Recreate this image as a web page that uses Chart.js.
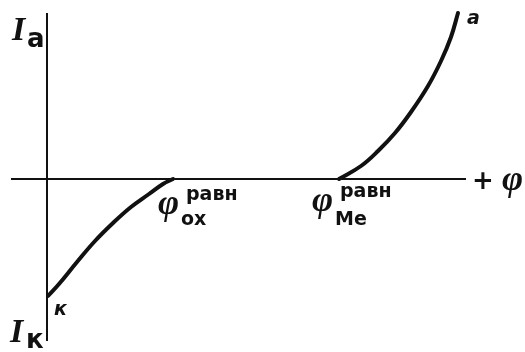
<!DOCTYPE html>
<html>
<head>
<meta charset="utf-8">
<script src="https://cdn.jsdelivr.net/npm/chart.js@4/dist/chart.umd.min.js"></script>
<style>
  html, body { margin: 0; padding: 0; background: #fff; }
  #wrap { width: 525px; height: 352px; }
</style>
</head>
<body>
<div id="wrap"><canvas id="c" width="525" height="352"></canvas></div>
<script>
// Potential axis (φ) and current axis (I), arbitrary units
const phiRange = [-35, 418];
const currentRange = [-161, 165];

// Equilibrium potentials
const phiOxEq = 126;
const phiMeEq = 292;

// Cathodic branch: from point к up to φ_ox equilibrium
const cathodicPhi = [1, 12, 30, 48, 66, 84, 102, 116, 126];
const cathodicI   = [-117, -105, -83, -62, -44, -28, -15, -5, 0];

// Anodic branch: from φ_Me equilibrium up to point а
const anodicPhi = [292, 314, 331, 348, 364, 381, 394, 404, 411];
const anodicI   = [0, 13, 28, 46, 67, 93, 118, 142, 166];

const toPoints = (xs, ys) => xs.map((v, i) => ({ x: v, y: ys[i] }));

const ink = '#111';

const labelsPlugin = {
  id: 'curveLabels',
  afterDatasetsDraw(chart) {
    const { ctx, scales: { x, y } } = chart;
    const ax = x.getPixelForValue(0);
    const ay = y.getPixelForValue(0);
    const top = chart.chartArea.top;
    const bottom = chart.chartArea.bottom;
    const right = chart.chartArea.right;
    ctx.save();
    ctx.fillStyle = ink;
    ctx.textBaseline = 'alphabetic';
    ctx.textAlign = 'left';

    const serifIt = s => 'italic bold ' + s + 'px "Liberation Serif"';
    const sansB = s => 'bold ' + s + 'px "DejaVu Sans"';
    const sansIt = s => 'italic bold ' + s + 'px "DejaVu Sans"';
    const put = (t, f, px, py) => { ctx.font = f; ctx.fillText(t, px, py); };

    // I_а  (anodic current)
    put('I', serifIt(34), ax - 35, top + 26);
    put('а', sansB(26), ax - 20, top + 33);

    // I_к  (cathodic current)
    put('I', serifIt(34), ax - 37, bottom + 2);
    put('к', sansB(26), ax - 21, bottom + 8);

    // end points of the curves
    const kx = x.getPixelForValue(cathodicPhi[0]);
    const ky = y.getPixelForValue(cathodicI[0]);
    put('к', sansIt(19), kx + 6, ky + 19);
    const ex = x.getPixelForValue(anodicPhi[anodicPhi.length - 1]);
    const ey = y.getPixelForValue(anodicI[anodicI.length - 1]);
    put('а', sansIt(19), ex + 9, ey + 11);

    // φ_ox^равн
    const ox = x.getPixelForValue(phiOxEq);
    put('φ', serifIt(36), ox - 15, ay + 35);
    put('равн', sansB(19), ox + 13, ay + 21);
    put('ox', sansB(19), ox + 8, ay + 46);

    // φ_Me^равн
    const mx = x.getPixelForValue(phiMeEq);
    put('φ', serifIt(36), mx - 27, ay + 32);
    put('равн', sansB(19), mx + 1, ay + 18);
    put('Me', sansB(19), mx - 4, ay + 46);

    // + φ
    put('+', sansB(26), right + 7, ay + 10);
    put('φ', serifIt(36), right + 37, ay + 11);

    ctx.restore();
  }
};

const lineStyle = {
  showLine: true,
  borderColor: ink,
  borderWidth: 4,
  pointRadius: 0,
  fill: false,
  tension: 0.4,
  borderCapStyle: 'round',
  clip: false
};

new Chart(document.getElementById('c'), {
  type: 'scatter',
  data: {
    datasets: [
      Object.assign({ label: 'катодная ветвь', data: toPoints(cathodicPhi, cathodicI) }, lineStyle),
      Object.assign({ label: 'анодная ветвь', data: toPoints(anodicPhi, anodicI) }, lineStyle)
    ]
  },
  options: {
    responsive: false,
    animation: false,
    devicePixelRatio: 1,
    layout: { padding: { left: 12, right: 60, top: 14, bottom: 12 } },
    plugins: { legend: { display: false }, tooltip: { enabled: false } },
    scales: {
      x: {
        type: 'linear',
        min: phiRange[0], max: phiRange[1],
        position: { y: 0 },
        grid: { display: false },
        ticks: { display: false },
        border: { display: true, color: ink, width: 2 }
      },
      y: {
        type: 'linear',
        min: currentRange[0], max: currentRange[1],
        position: { x: 0 },
        grid: { display: false },
        ticks: { display: false },
        border: { display: true, color: ink, width: 2 }
      }
    }
  },
  plugins: [labelsPlugin]
});
</script>
</body>
</html>
